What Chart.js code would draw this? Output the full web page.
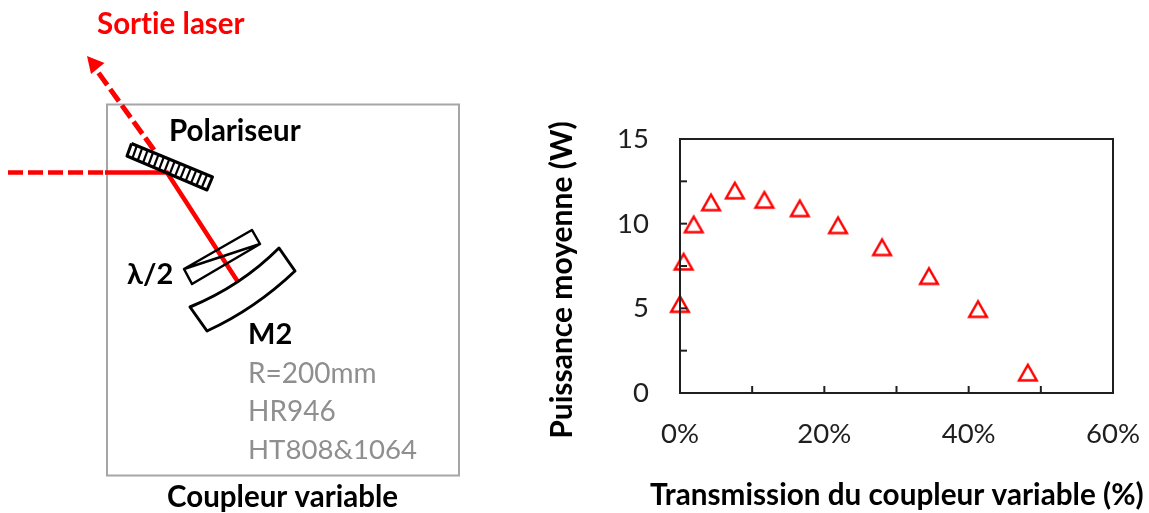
<!DOCTYPE html>
<html>
<head>
<meta charset="utf-8">
<style>
  html, body { margin: 0; background: #fff; overflow: hidden; }
  #c { position: absolute; left: 0; top: 0; }
</style>
<script src="https://cdn.jsdelivr.net/npm/chart.js@4"></script>
</head>
<body>
<canvas id="c" width="1149" height="513"></canvas>
<script>
// Values
const transmission = [0.0, 0.5, 1.9, 4.3, 7.6, 11.7, 16.6, 21.9, 28.0, 34.5, 41.3, 48.2];
const power = [5.3, 7.8, 10.0, 11.3, 12.0, 11.45, 10.95, 9.95, 8.65, 6.95, 5.0, 1.25];
const xLabels = ['0%', '20%', '40%', '60%'];
const yLabels = ['0', '5', '10', '15'];

const RED = '#ff0000';
const GREY = '#a6a6a6';
const INK = '#1f1f1f';
const FONT = 'Lato, "Open Sans", sans-serif';

// Open triangle centred on its point, the built-in one sits too high
function triangleMarker() {
    const cv = document.createElement('canvas');
    cv.width = cv.height = 26;
    const g = cv.getContext('2d');
    g.strokeStyle = RED;
    g.lineWidth = 2.5;
    g.lineJoin = 'miter';
    g.beginPath();
    g.moveTo(13, 6);
    g.lineTo(21.8, 21.5);
    g.lineTo(4.2, 21.5);
    g.closePath();
    g.stroke();
    return cv;
}

function line(ctx, pts, color, width, dash) {
    ctx.save();
    ctx.strokeStyle = color;
    ctx.lineWidth = width;
    ctx.setLineDash(dash || []);
    ctx.beginPath();
    pts.forEach((p, i) => i ? ctx.lineTo(p[0], p[1]) : ctx.moveTo(p[0], p[1]));
    ctx.stroke();
    ctx.restore();
}

function label(ctx, text, x, y, font, color) {
    ctx.font = font;
    ctx.fillStyle = color;
    ctx.textAlign = 'left';
    ctx.textBaseline = 'alphabetic';
    ctx.fillText(text, x, y);
}

// Cavity sketch on the left and the two axis titles
// (a Chart.js title would be squeezed to the width of the plot)
const sketch = {
    id: 'sketch',
    beforeDraw(chart) {
        chart.ctx.letterSpacing = '0.01px'; // stops Lato's "ti" ligature
    },
    afterDraw(chart) {
        const ctx = chart.ctx;
        ctx.save();

        ctx.strokeStyle = GREY;
        ctx.lineWidth = 2;
        ctx.strokeRect(107, 104.5, 352, 371);

        // beam
        line(ctx, [[8, 172.5], [107, 172.5]], RED, 4.5, [15, 5]);
        line(ctx, [[105, 172.5], [167, 172.5], [238, 282]], RED, 4.5);
        line(ctx, [[154, 150], [95, 68]], RED, 5, [15, 5]);
        ctx.fillStyle = RED;
        ctx.beginPath();
        ctx.moveTo(87, 56);
        ctx.lineTo(104.5, 63);
        ctx.lineTo(91, 74);
        ctx.closePath();
        ctx.fill();

        // polariseur
        ctx.lineJoin = 'round';
        line(ctx, [[131.5, 143.5], [212.5, 177], [207, 190], [127, 156], [131.5, 143.5]], '#000', 3);
        for (let i = 1; i < 15; i++) {
            const t = i / 15;
            line(ctx, [[131.5 + 81 * t, 143.5 + 33.5 * t], [127 + 80 * t, 156 + 34 * t]], '#000', 2.2);
        }

        // lambda/2
        line(ctx, [[184, 269], [252, 230], [260, 244], [192, 284], [184, 269], [260, 244]], '#000', 2.5);

        // M2
        ctx.strokeStyle = '#000';
        ctx.lineWidth = 3;
        ctx.beginPath();
        ctx.moveTo(190, 307);
        ctx.quadraticCurveTo(241, 286, 279, 248);
        ctx.lineTo(295, 271);
        ctx.quadraticCurveTo(255, 309, 207, 331);
        ctx.closePath();
        ctx.stroke();

        label(ctx, 'Sortie laser', 97, 34, 'bold 29.5px ' + FONT, RED);
        label(ctx, 'Polariseur', 169, 141, 'bold 29.5px ' + FONT, '#000');
        label(ctx, 'λ/2', 127, 284, 'bold 29px ' + FONT, '#000');
        label(ctx, 'M2', 248, 344, 'bold 29px ' + FONT, '#000');
        label(ctx, 'R=200mm', 248, 383, '28px ' + FONT, '#8f8f8f');
        label(ctx, 'HR946', 248, 421, '28px ' + FONT, '#8f8f8f');
        label(ctx, 'HT808&1064', 248, 459, '27.6px ' + FONT, '#8f8f8f');
        label(ctx, 'Coupleur variable', 167, 507, 'bold 29.5px ' + FONT, '#000');

        label(ctx, 'Transmission du coupleur variable (%)', 650, 505, 'bold 29.7px ' + FONT, '#000');

        ctx.translate(572, 280);
        ctx.rotate(-Math.PI / 2);
        ctx.textAlign = 'center';
        ctx.font = 'bold 30px ' + FONT;
        ctx.fillStyle = '#000';
        ctx.fillText('Puissance moyenne (W)', 0, 0);
        ctx.restore();
    }
};

new Chart(document.getElementById('c'), {
    type: 'scatter',
    data: {
        datasets: [{
            data: transmission.map((x, i) => ({ x: x, y: power[i] })),
            pointStyle: triangleMarker(),
            clip: false
        }]
    },
    options: {
        responsive: false,
        animation: false,
        layout: { padding: { left: 590, top: 139, right: 36, bottom: 0 } },
        plugins: { legend: { display: false }, tooltip: { enabled: false } },
        scales: {
            x: {
                type: 'linear',
                min: 0,
                max: 60,
                afterFit(scale) {
                    scale.height = 120;
                    scale.paddingLeft = scale.paddingRight = 0;
                },
                afterBuildTicks(scale) { scale.ticks = [0, 10, 20, 30, 40, 50, 60].map(v => ({ value: v })); },
                border: { color: INK, width: 2 },
                grid: { drawOnChartArea: false, drawTicks: false },
                ticks: {
                    color: INK,
                    font: { family: FONT, size: 27.5 },
                    padding: 25,
                    maxRotation: 0,
                    autoSkip: false,
                    callback: v => xLabels[v / 20] || ''
                }
            },
            y: {
                type: 'linear',
                min: 0,
                max: 15,
                afterFit(scale) {
                    scale.width = 90;
                    scale.paddingTop = scale.paddingBottom = 0;
                },
                afterBuildTicks(scale) { scale.ticks = [0, 2.5, 5, 7.5, 10, 12.5, 15].map(v => ({ value: v })); },
                border: { color: INK, width: 2 },
                grid: { drawOnChartArea: false, drawTicks: false },
                ticks: {
                    color: INK,
                    font: { family: FONT, size: 27.5 },
                    padding: 31,
                    autoSkip: false,
                    callback: v => yLabels[v / 5] || ''
                }
            }
        }
    },
    plugins: [sketch, {
        // inside ticks and the closed frame
        id: 'frame',
        afterDraw(chart) {
            const ctx = chart.ctx, a = chart.chartArea;
            ctx.save();
            ctx.strokeStyle = INK;
            ctx.lineWidth = 2;
            ctx.strokeRect(a.left, a.top, a.right - a.left, a.bottom - a.top);
            chart.scales.x.ticks.forEach(t => {
                const px = chart.scales.x.getPixelForValue(t.value);
                ctx.beginPath(); ctx.moveTo(px, a.bottom); ctx.lineTo(px, a.bottom - 7); ctx.stroke();
            });
            chart.scales.y.ticks.forEach(t => {
                const py = chart.scales.y.getPixelForValue(t.value);
                ctx.beginPath(); ctx.moveTo(a.left, py); ctx.lineTo(a.left + 7, py); ctx.stroke();
            });
            ctx.restore();
        }
    }]
});
</script>
</body>
</html>
